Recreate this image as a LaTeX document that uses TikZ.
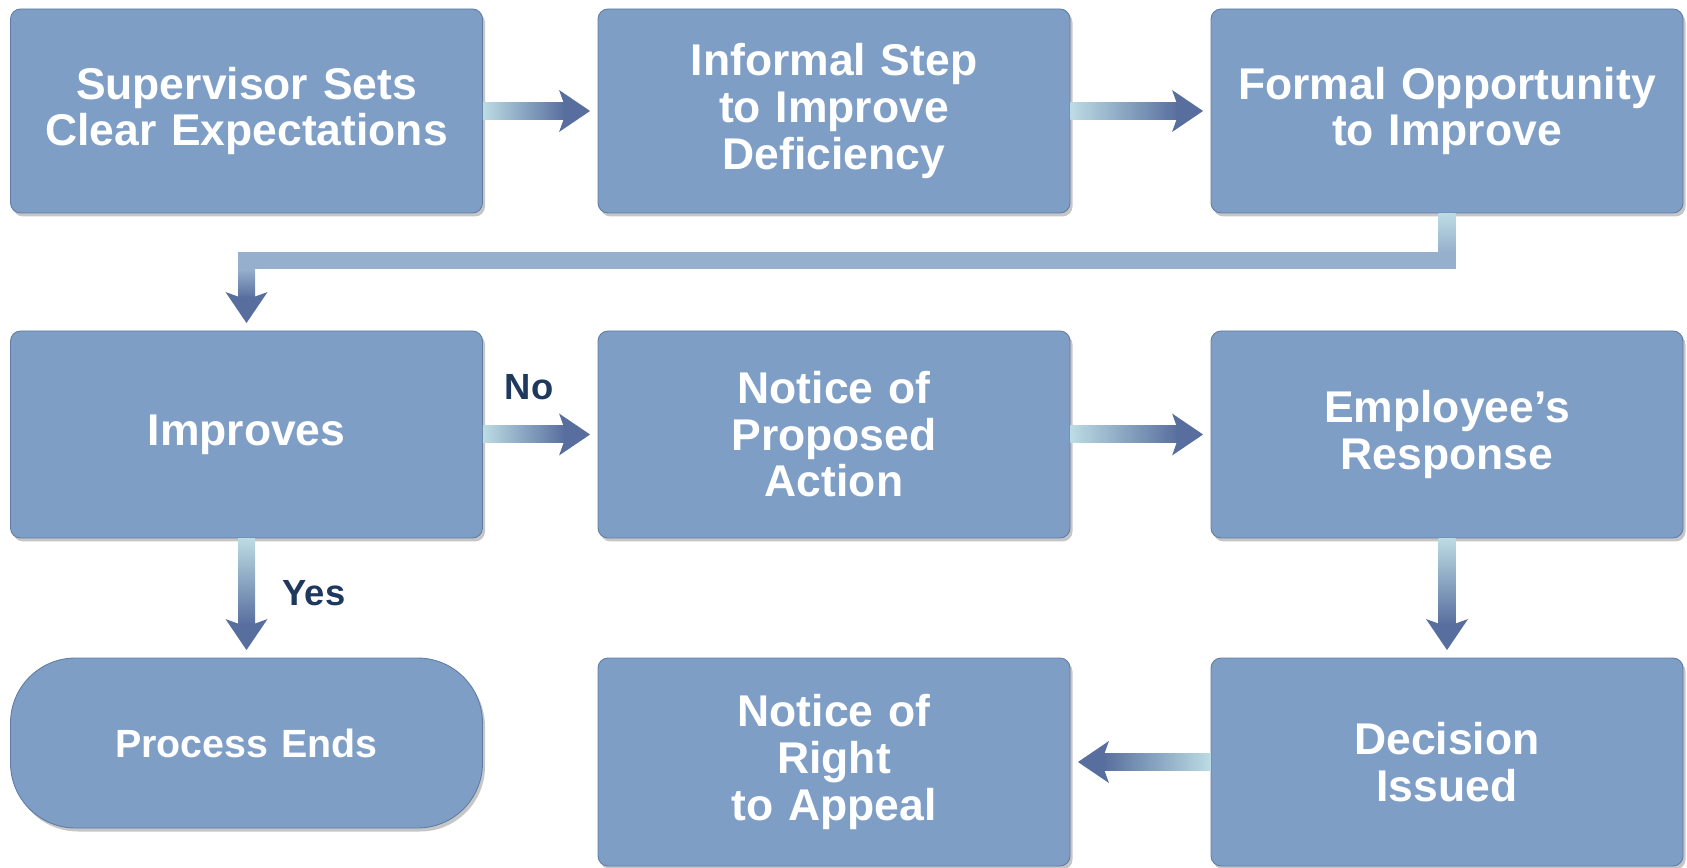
\documentclass[tikz,border=0pt]{standalone}
\usepackage{fontspec}
\setmainfont{Liberation Sans}
\usetikzlibrary{calc,shadows}
\definecolor{boxfill}{RGB}{126,158,198}
\definecolor{boxedge}{RGB}{96,124,164}
\definecolor{flowlight}{RGB}{188,220,228}
\definecolor{flowmid}{RGB}{150,175,204}
\definecolor{flowdark}{RGB}{88,110,158}
\definecolor{labelblue}{RGB}{31,56,94}
\newcommand{\boxfont}{\fontsize{25.3}{26.5}\selectfont\bfseries}
\tikzset{
  stepbox/.style={rectangle, rounded corners=0.2cm, fill=boxfill, draw=boxedge, line width=0.5pt,
    inner sep=0pt, minimum width=9.44cm, text width=9.2cm, align=center, text=white, font=\boxfont,
    drop shadow={shadow xshift=0.05cm, shadow yshift=-0.07cm, opacity=0.45}},
  endbox/.style={stepbox, rounded corners=1.3cm, font=\fontsize{22.4}{24}\selectfont\bfseries},
  answer/.style={text=labelblue, font=\fontsize{20.7}{22}\selectfont\bfseries},
  flowhead/.pic={\fill[flowdark] (0,0) -- (-0.62,0.42) -- (-0.53,0.17) -- (-0.53,-0.17) -- (-0.62,-0.42) -- cycle;}
}

\begin{document}
\begin{tikzpicture}
			%%%%% START %%%%%
			\useasboundingbox (0,0) rectangle (33.74,-17.36);
			
			\node[stepbox, minimum height=4.08cm] (sup) at (4.93,-2.22) {Supervisor Sets\\Clear Expectations};
			\node[stepbox, minimum height=4.08cm] (inf) at (16.68,-2.22) {Informal Step\\to Improve\\Deficiency};
			\node[stepbox, minimum height=4.08cm] (frm) at (28.94,-2.22) {Formal Opportunity\\to Improve};
			
			\node[stepbox, minimum height=4.14cm] (imp) at (4.93,-8.69) {Improves};
			\node[stepbox, minimum height=4.14cm] (npa) at (16.68,-8.69) {Notice of\\Proposed\\Action};
			\node[stepbox, minimum height=4.14cm] (emp) at (28.94,-8.69) {Employee’s\\Response};
			
			\node[endbox, minimum height=3.4cm] (ends) at (4.93,-14.86) {Process Ends};
			\node[stepbox, minimum height=4.16cm] (nra) at (16.68,-15.24) {Notice of\\Right\\to Appeal};
			\node[stepbox, minimum height=4.16cm] (dec) at (28.94,-15.24) {Decision\\Issued};
			
			% row 1
			\shade[left color=flowlight, right color=flowdark] ($(sup.east)+(0,-0.17)$) rectangle ($(inf.west)+(-0.65,0.17)$);
			\pic at ($(inf.west)+(-0.15,0)$) {flowhead};
			\shade[left color=flowlight, right color=flowdark] ($(inf.east)+(0,-0.17)$) rectangle ($(frm.west)+(-0.65,0.17)$);
			\pic at ($(frm.west)+(-0.15,0)$) {flowhead};
			
			% back to the start of row 2
			\coordinate (bend) at (0,-5.22);
			\shade[top color=flowlight, bottom color=flowmid] ($(frm.south)+(-0.17,0)$) rectangle ($(frm.south |- bend)+(0.17,0.17)$);
			\fill[flowmid] ($(frm.south |- bend)+(0.17,0.17)$) rectangle ($(imp.north |- bend)+(-0.17,-0.17)$);
			\shade[top color=flowmid, bottom color=flowdark] ($(imp.north |- bend)+(-0.17,-0.17)$) rectangle ($(imp.north)+(0.17,0.65)$);
			\pic[rotate=-90] at ($(imp.north)+(0,0.15)$) {flowhead};
			
			% row 2
			\shade[left color=flowlight, right color=flowdark] ($(imp.east)+(0,-0.17)$) rectangle ($(npa.west)+(-0.65,0.17)$);
			\pic at ($(npa.west)+(-0.15,0)$) {flowhead};
			\shade[left color=flowlight, right color=flowdark] ($(npa.east)+(0,-0.17)$) rectangle ($(emp.west)+(-0.65,0.17)$);
			\pic at ($(emp.west)+(-0.15,0)$) {flowhead};
			\node[answer] (no) at (10.58,-7.74) {No};
			
			% down to row 3
			\shade[top color=flowlight, bottom color=flowdark] ($(imp.south)+(-0.17,0)$) rectangle ($(ends.north)+(0.17,0.65)$);
			\pic[rotate=-90] at ($(ends.north)+(0,0.15)$) {flowhead};
			\node[answer] (yes) at (6.28,-11.86) {Yes};
			\shade[top color=flowlight, bottom color=flowdark] ($(emp.south)+(-0.17,0)$) rectangle ($(dec.north)+(0.17,0.65)$);
			\pic[rotate=-90] at ($(dec.north)+(0,0.15)$) {flowhead};
			
			% row 3
			\shade[left color=flowdark, right color=flowlight] ($(nra.east)+(0.65,-0.17)$) rectangle ($(dec.west)+(0,0.17)$);
			\pic[rotate=180] at ($(nra.east)+(0.15,0)$) {flowhead};
			
			%%%%% END %%%%%
\end{tikzpicture}
\end{document}
